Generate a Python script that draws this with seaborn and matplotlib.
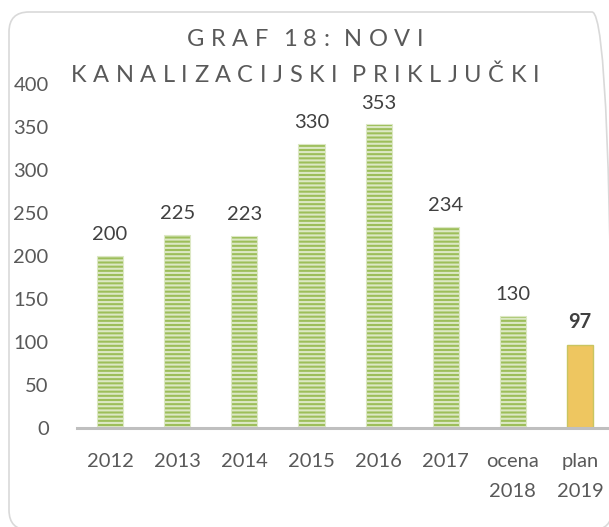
import matplotlib
matplotlib.use("Agg")
import matplotlib.pyplot as plt
import seaborn as sns
import pandas as pd
from matplotlib.patches import FancyBboxPatch

# data
categories = ['2012', '2013', '2014', '2015', '2016', '2017', 'ocena\n2018', 'plan\n2019']
values = [200, 225, 223, 330, 353, 234, 130, 97]
title_lines = ['GRAF 18: NOVI', 'KANALIZACIJSKI PRIKLJUČKI']

df = pd.DataFrame({'kategorija': categories, 'vrednost': values})

sns.set_theme(style="white")
plt.rcParams['font.family'] = ['Lato', 'DejaVu Sans']
plt.rcParams['hatch.linewidth'] = 1.5

W, H = 609, 527
fig = plt.figure(figsize=(W / 100, H / 100), dpi=100)
ax = fig.add_axes([76.5 / W, 1 - 428 / H, (613.6 - 76.5) / W, (428 - 84) / H])

sns.barplot(data=df, x='kategorija', y='vrednost', ax=ax, width=0.39,
            color='#9BBB59', saturation=1)

green_face = '#9DBE5A'
stripe = '#DCE8C4'
for i, bar in enumerate(ax.patches):
    if i == len(values) - 1:
        bar.set_facecolor('#EEC660')
        bar.set_edgecolor('#C9C560')
        bar.set_linewidth(1.0)
    else:
        bar.set_facecolor(green_face)
        bar.set_edgecolor(stripe)
        bar.set_hatch('----')
        bar.set_linewidth(0.8)

# value labels
for i, v in enumerate(values):
    last = i == len(values) - 1
    ax.text(i, v + 15, str(v), ha='center', va='bottom', fontsize=14.5,
            color='#404040', fontweight='bold' if last else 'normal')

ax.set_ylim(0, 400)
ax.set_xlim(-0.5, len(values) - 0.5)
ax.set_yticks(range(0, 401, 50))
ax.set_xticks(range(len(categories)))
ax.set_xticklabels(categories, linespacing=1.95)
ax.set_xlabel('')
ax.set_ylabel('')
ax.tick_params(axis='y', labelsize=14.5, labelcolor='#595959', length=0, pad=20)
ax.tick_params(axis='x', labelsize=14.5, labelcolor='#595959', length=0, pad=18)
for s in ['top', 'right', 'left']:
    ax.spines[s].set_visible(False)
ax.spines['bottom'].set_color('#BFBFBF')
ax.spines['bottom'].set_linewidth(2.2)

# title with wide letter spacing, placed char by char
renderer = fig.canvas.get_renderer()
title_size = 17
space_w = 2.0


def char_widths(line):
    out = []
    for ch in line:
        if ch == ' ':
            out.append(space_w)
            continue
        t = fig.text(0, 0, ch, fontsize=title_size)
        out.append(t.get_window_extent(renderer).width)
        t.remove()
    return out


all_widths = [char_widths(line) for line in title_lines]
# tracking chosen so the second line is about 468 px wide, as in the reference
tracking = (468.0 - sum(all_widths[1])) / (len(title_lines[1]) - 1)
baselines = [46, 82]

for line, widths, base in zip(title_lines, all_widths, baselines):
    total = sum(widths) + tracking * (len(line) - 1)
    x = 305 - total / 2
    for ch, w in zip(line, widths):
        if ch != ' ':
            fig.text(x / W, 1 - base / H, ch, ha='left', va='baseline',
                     fontsize=title_size, color='#595959')
        x += w + tracking

# rounded chart frame (runs past the right and bottom edges, as in the crop)
frame = FancyBboxPatch((0.09, -0.03), 6.03, 5.18,
                       boxstyle='round,pad=0,rounding_size=0.2',
                       transform=fig.dpi_scale_trans, facecolor='none',
                       edgecolor='#D9D9D9', linewidth=1.2, clip_on=False)
fig.patches.append(frame)

fig.savefig('out.png', dpi=100)
